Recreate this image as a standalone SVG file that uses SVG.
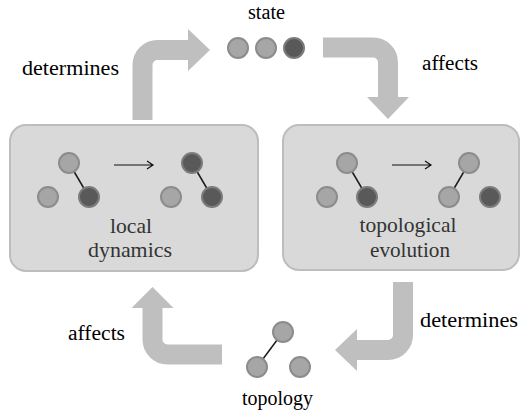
<svg xmlns="http://www.w3.org/2000/svg" width="522" height="415" viewBox="0 0 522 415">
<style>
.bg{fill:#ffffff}
.box{fill:#d9d9d9;stroke:#bdbdbd;stroke-width:2}
.shaft{fill:none;stroke:#bfbfbf;stroke-width:20;stroke-linecap:butt}
.head{fill:#bfbfbf}
.lt{fill:#a6a6a6;stroke:#8c8c8c;stroke-width:2}
.dk{fill:#595959;stroke:#7c7c7c;stroke-width:2}
.edge{stroke:#1a1a1a;stroke-width:1.5}
.thin{fill:none;stroke:#111;stroke-width:1.2}
text{font-family:'Liberation Serif','Tinos','Times New Roman',Times,'DejaVu Serif','Noto Serif',FreeSerif,serif}
.lbl{font-size:20px;fill:#000}
.box-t{font-size:21px;fill:#333;text-anchor:middle}
</style>
<rect class="bg" x="0" y="0" width="522" height="415"/>
<g id="connectors">
  <path class="shaft" d="M142.5,120 V65 A15,15 0 0 1 157.5,50 H189"/>
  <polygon class="head" points="188,29 210,50 188,71"/>
  <path class="shaft" d="M323,47.5 H373 A15,15 0 0 1 388,62.5 V98"/>
  <polygon class="head" points="367,97 409,97 388,119"/>
  <path class="shaft" d="M222,354.5 H167.5 A15,15 0 0 1 152.5,339.5 V307"/>
  <polygon class="head" points="131.5,308 173.5,308 152.5,287"/>
  <path class="shaft" d="M403,282 V335 A15,15 0 0 1 388,350 H356"/>
  <polygon class="head" points="357,329 335,350 357,371"/>
  <text class="lbl" x="22" y="75" textLength="97" lengthAdjust="spacingAndGlyphs">determines</text>
  <text class="lbl" x="422" y="70" textLength="56" lengthAdjust="spacingAndGlyphs">affects</text>
  <text class="lbl" x="420" y="327" textLength="98" lengthAdjust="spacingAndGlyphs">determines</text>
  <text class="lbl" x="68" y="340" textLength="57" lengthAdjust="spacingAndGlyphs">affects</text>
</g>
<g id="state">
  <text class="lbl" x="248" y="19" textLength="37" lengthAdjust="spacingAndGlyphs">state</text>
  <circle class="lt" cx="238" cy="48" r="10"/>
  <circle class="lt" cx="266" cy="48" r="10"/>
  <circle class="dk" cx="294" cy="48" r="10"/>
</g>
<g id="local-dynamics">
  <rect class="box" x="10" y="125" width="248" height="146" rx="16"/>
  <line class="edge" x1="69" y1="163" x2="89" y2="197"/>
  <circle class="lt" cx="69" cy="163" r="10"/>
  <circle class="lt" cx="48" cy="197" r="10"/>
  <circle class="dk" cx="89" cy="197" r="10"/>
  <path class="thin" d="M114,165 H153 M147,161 L153,165 L147,169"/>
  <line class="edge" x1="192" y1="163" x2="212" y2="197"/>
  <circle class="dk" cx="192" cy="163" r="10"/>
  <circle class="lt" cx="171" cy="197" r="10"/>
  <circle class="dk" cx="212" cy="197" r="10"/>
  <text class="box-t" x="131" y="233" textLength="42" lengthAdjust="spacingAndGlyphs">local</text>
  <text class="box-t" x="130" y="257" textLength="84" lengthAdjust="spacingAndGlyphs">dynamics</text>
</g>
<g id="topological-evolution">
  <rect class="box" x="283" y="125" width="236" height="145" rx="16"/>
  <line class="edge" x1="347" y1="163" x2="367" y2="197"/>
  <circle class="lt" cx="347" cy="163" r="10"/>
  <circle class="lt" cx="327" cy="197" r="10"/>
  <circle class="dk" cx="367" cy="197" r="10"/>
  <path class="thin" d="M392,165 H431 M425,161 L431,165 L425,169"/>
  <line class="edge" x1="469" y1="163" x2="449" y2="197"/>
  <circle class="lt" cx="469" cy="163" r="10"/>
  <circle class="lt" cx="449" cy="197" r="10"/>
  <circle class="dk" cx="490" cy="197" r="10"/>
  <text class="box-t" x="408" y="232" textLength="97" lengthAdjust="spacingAndGlyphs">topological</text>
  <text class="box-t" x="410" y="257" textLength="80" lengthAdjust="spacingAndGlyphs">evolution</text>
</g>
<g id="topology">
  <line class="edge" x1="283" y1="332" x2="257" y2="367"/>
  <circle class="lt" cx="283" cy="332" r="10"/>
  <circle class="lt" cx="257" cy="367" r="10"/>
  <circle class="lt" cx="300" cy="367" r="10"/>
  <text class="lbl" x="242" y="405" textLength="71" lengthAdjust="spacingAndGlyphs">topology</text>
</g>
</svg>
